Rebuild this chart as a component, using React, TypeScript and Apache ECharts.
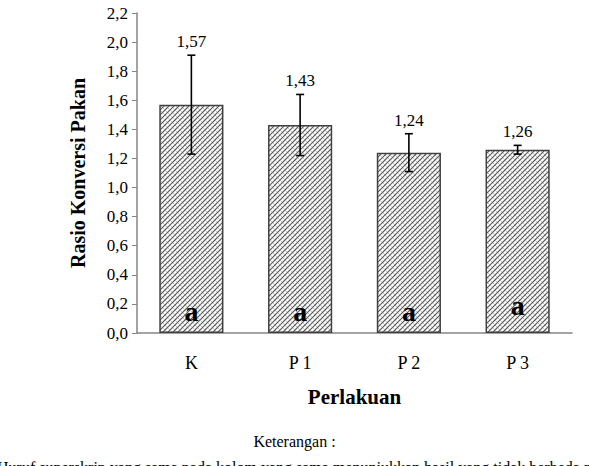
import React, { useEffect, useRef } from "react";
import * as echarts from "echarts";

const categories = ["K", "P 1", "P 2", "P 3"];
const means = [1.57, 1.43, 1.24, 1.26];
const errors = [0.34, 0.21, 0.13, 0.03];
const letters = ["a", "a", "a", "a"];
const yTicks = { min: 0, max: 2.2, interval: 0.2 };

function makePattern(): string {
  const c = document.createElement("canvas");
  const s = 10;
  c.width = s;
  c.height = s;
  const ctx = c.getContext("2d")!;
  ctx.fillStyle = "#ffffff";
  ctx.fillRect(0, 0, s, s);
  ctx.strokeStyle = "#c4c4c4";
  ctx.lineWidth = 1;
  for (let k = -s; k <= 2 * s; k += 5) {
    ctx.beginPath();
    ctx.moveTo(k, 0);
    ctx.lineTo(k + s, s);
    ctx.stroke();
  }
  ctx.strokeStyle = "#5a5a5a";
  ctx.lineWidth = 1.2;
  for (let k = -s; k <= 2 * s; k += 5) {
    ctx.beginPath();
    ctx.moveTo(k, s);
    ctx.lineTo(k + s, 0);
    ctx.stroke();
  }
  return c.toDataURL();
}

const fmt = (v: number, d: number) => v.toFixed(d).replace(".", ",");
const serif = "'Liberation Serif', 'Times New Roman', serif";

export default function App() {
  const ref = useRef<HTMLDivElement>(null);
  useEffect(() => {
    if (!ref.current) return;
    const chart = echarts.init(ref.current, null, { renderer: "svg" });
    const pattern = makePattern();
    const errData = means.map((m, i) => [i, m, m - errors[i], m + errors[i]]);
    chart.setOption({
      animation: false,
      backgroundColor: "#ffffff",
      textStyle: { fontFamily: serif },
      grid: { left: 137, right: 17, top: 13, bottom: 133 },
      xAxis: {
        type: "category",
        data: categories,
        name: "Perlakuan",
        nameLocation: "middle",
        nameGap: 53,
        nameTextStyle: { fontFamily: serif, fontSize: 21, fontWeight: "bold", color: "#000" },
        axisLine: { lineStyle: { color: "#868686", width: 1.5 } },
        axisTick: { show: false },
        axisLabel: { fontFamily: serif, fontSize: 18, color: "#000", margin: 21 },
      },
      yAxis: {
        type: "value",
        min: yTicks.min,
        max: yTicks.max,
        interval: yTicks.interval,
        name: "Rasio Konversi Pakan",
        nameLocation: "middle",
        nameGap: 49,
        nameTextStyle: { fontFamily: serif, fontSize: 20, fontWeight: "bold", color: "#000" },
        axisLine: { show: true, lineStyle: { color: "#868686", width: 1.5 } },
        axisTick: { show: true, length: 5, lineStyle: { color: "#868686" } },
        splitLine: { show: false },
        axisLabel: {
          fontFamily: serif,
          fontSize: 17,
          color: "#000",
          margin: 9,
          formatter: (v: number) => fmt(v, 1),
        },
      },
      series: [
        {
          type: "bar",
          data: means.map((v, i) => ({ value: v, label: i === 3 ? { distance: 14 } : undefined })),
          barWidth: "59%",
          itemStyle: {
            color: { image: pattern, repeat: "repeat" },
            borderColor: "#404040",
            borderWidth: 1.5,
          },
          label: {
            show: true,
            position: "insideBottom",
            distance: 8,
            formatter: (p: any) => letters[p.dataIndex],
            fontFamily: serif,
            fontSize: 28,
            fontWeight: "bold",
            color: "#000",
          },
        },
        {
          type: "custom",
          data: errData,
          z: 10,
          renderItem: (params: any, api: any) => {
            const x = api.coord([api.value(0), 0])[0];
            const lo = api.coord([api.value(0), api.value(2)])[1];
            const hi = api.coord([api.value(0), api.value(3)])[1];
            const w = 4;
            const m = api.value(1);
            const st = { stroke: "#000", lineWidth: 1.6 };
            return {
              type: "group",
              children: [
                { type: "line", shape: { x1: x, y1: lo, x2: x, y2: hi }, style: st },
                { type: "line", shape: { x1: x - w, y1: lo, x2: x + w, y2: lo }, style: st },
                { type: "line", shape: { x1: x - w, y1: hi, x2: x + w, y2: hi }, style: st },
                {
                  type: "text",
                  x: x,
                  y: hi - 5,
                  style: {
                    text: fmt(m, 2),
                    fontFamily: serif,
                    fontSize: 17,
                    fill: "#000",
                    align: "center",
                    verticalAlign: "bottom",
                  },
                },
              ],
            };
          },
        },
      ],
      graphic: [
        {
          type: "text",
          left: "center",
          top: 433,
          style: { text: "Keterangan :", fontFamily: serif, fontSize: 16, fill: "#000" },
        },
        {
          type: "text",
          left: -3,
          top: 459,
          style: {
            text: "Huruf superskrip yang sama pada kolom yang sama menunjukkan hasil yang tidak berbeda nyata (P>0,05)",
            fontFamily: serif,
            fontSize: 16,
            fill: "#000",
          },
        },
      ],
    });
    return () => chart.dispose();
  }, []);
  return <div ref={ref} style={{ width: 589, height: 466, position: "absolute", left: 0, top: 0 }} />;
}
